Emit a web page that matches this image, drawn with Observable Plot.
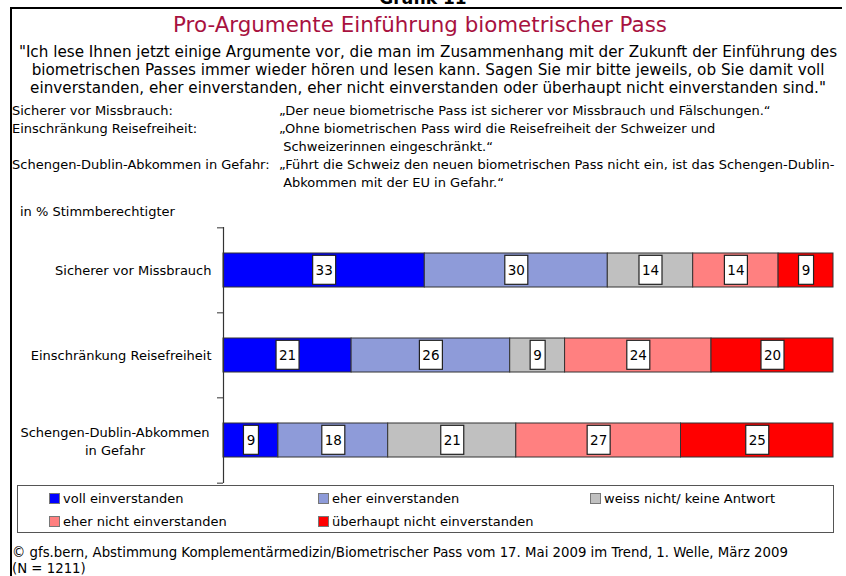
<!DOCTYPE html>
<html><head><meta charset="utf-8">
<script src="https://cdn.jsdelivr.net/npm/d3@7"></script>
<script src="https://cdn.jsdelivr.net/npm/@observablehq/plot@0.6"></script>
<style>
body{margin:0;background:#fff;}
#wrap{position:relative;width:846px;height:576px;overflow:hidden;background:#fff;color:#000;font-family:"DejaVu Sans",sans-serif;}
#frame{position:absolute;left:10px;top:7px;width:830px;height:580px;border-top:2px solid #000;border-left:2px solid #000;}
#grafik{position:absolute;left:0;width:846px;top:-12px;text-align:center;font:bold 17px "DejaVu Sans",sans-serif;}
#title{position:absolute;left:0;width:840px;top:11px;text-align:center;font:21.4px/28px "DejaVu Sans",sans-serif;color:#a8123f;white-space:nowrap;}
.q{position:absolute;left:13px;width:830px;text-align:center;font:15.2px/18px "DejaVu Sans",sans-serif;white-space:nowrap;}
.def{position:absolute;font:13px/18px "DejaVu Sans",sans-serif;white-space:pre;}
#unit{position:absolute;left:20px;top:203px;font:13px/18px "DejaVu Sans",sans-serif;}
#chart{position:absolute;left:0;top:215px;}
#legend{position:absolute;left:17px;top:485px;width:815px;height:46px;border:1px solid #555;}
.li{position:absolute;font:13px/18px "DejaVu Sans",sans-serif;white-space:nowrap;}
.sw{display:inline-block;width:9px;height:9px;border:1px solid #777;vertical-align:-1px;margin-right:3px;}
#footer{position:absolute;left:12px;top:545px;font:13.3px/16px "DejaVu Sans",sans-serif;white-space:nowrap;}
</style></head><body>
<div id="wrap">
  <div id="grafik">Grafik 11</div>
  <div id="frame"></div>
  <div id="title"></div>
  <div id="question"></div>
  <div id="defs"></div>
  <div id="unit"></div>
  <div id="chart"></div>
  <div id="legend"></div>
  <div id="footer"></div>
</div>
<script>
// ---- Data ----
const titleText = "Pro-Argumente Einführung biometrischer Pass";
const questionLines = [
  "\"Ich lese Ihnen jetzt einige Argumente vor, die man im Zusammenhang mit der Zukunft der Einführung des",
  "biometrischen Passes immer wieder hören und lesen kann. Sagen Sie mir bitte jeweils, ob Sie damit voll",
  "einverstanden, eher einverstanden, eher nicht einverstanden oder überhaupt nicht einverstanden sind.\""
];
const defTerms = ["Sicherer vor Missbrauch:", "Einschränkung Reisefreiheit:", "Schengen-Dublin-Abkommen in Gefahr:"];
const defTexts = [
  ["„Der neue biometrische Pass ist sicherer vor Missbrauch und Fälschungen.“"],
  ["„Ohne biometrischen Pass wird die Reisefreiheit der Schweizer und", " Schweizerinnen eingeschränkt.“"],
  ["„Führt die Schweiz den neuen biometrischen Pass nicht ein, ist das Schengen-Dublin-", " Abkommen mit der EU in Gefahr.“"]
];
const unitText = "in % Stimmberechtigter";
const categories = ["Sicherer vor Missbrauch", "Einschränkung Reisefreiheit", "Schengen-Dublin-Abkommen in Gefahr"];
const categoryLabels = ["Sicherer vor Missbrauch", "Einschränkung Reisefreiheit", "Schengen-Dublin-Abkommen\nin Gefahr"];
const responses = ["voll einverstanden", "eher einverstanden", "weiss nicht/ keine Antwort", "eher nicht einverstanden", "überhaupt nicht einverstanden"];
const colors = ["#0000ff", "#8e9bd9", "#c0c0c0", "#ff8080", "#ff0000"];
const valuesSicherer = [33, 30, 14, 14, 9];
const valuesReisefreiheit = [21, 26, 9, 24, 20];
const valuesSchengen = [9, 18, 21, 27, 25];
const footerLines = ["© gfs.bern, Abstimmung Komplementärmedizin/Biometrischer Pass vom 17. Mai 2009 im Trend, 1. Welle, März 2009", "(N = 1211)"];

// ---- Text blocks ----
document.getElementById("title").textContent = titleText;
const q = document.getElementById("question");
questionLines.forEach((s, i) => {
  const d = document.createElement("div");
  d.className = "q"; d.style.top = (43 + i * 18) + "px"; d.textContent = s; q.appendChild(d);
});
document.getElementById("unit").textContent = unitText;
document.getElementById("footer").innerHTML = footerLines.join("<br>");
const defs = document.getElementById("defs");
let line = 0;
defTerms.forEach((t, i) => {
  const a = document.createElement("div");
  a.className = "def"; a.style.left = "12px"; a.style.top = (102 + line * 18) + "px";
  a.textContent = t; defs.appendChild(a);
  defTexts[i].forEach((s, k) => {
    const b = document.createElement("div");
    b.className = "def"; b.style.left = "279px"; b.style.top = (102 + (line + k) * 18) + "px";
    b.textContent = s; defs.appendChild(b);
  });
  line += defTexts[i].length;
});

// ---- Chart ----
const data = [];
[valuesSicherer, valuesReisefreiheit, valuesSchengen].forEach((vals, i) =>
  vals.forEach((v, j) => data.push({cat: categories[i], resp: responses[j], value: v})));

const H = 272, mT = 12, mB = 4;
const step = (H - mT - mB) / categories.length;
const stack = {x: "value", y: "cat", z: "resp", order: responses};
const labelOf = d => categoryLabels[categories.indexOf(d)];

const chart = Plot.plot({
  width: 846, height: H,
  marginLeft: 223, marginRight: 13, marginTop: mT, marginBottom: mB,
  x: {domain: [0, 100], axis: null},
  y: {domain: categories, paddingInner: 0.596, paddingOuter: 0.298, axis: null},
  color: {domain: responses, range: colors},
  style: {fontFamily: "DejaVu Sans, sans-serif", fontSize: "13px", background: "transparent", color: "#000"},
  marks: [
    Plot.barX(data, Plot.stackX({...stack, fill: "resp", stroke: "#333", strokeWidth: 1})),
    Plot.ruleX([0], {stroke: "#333", strokeWidth: 1.2}),
    Plot.axisY({ticks: categories, tickSize: 6, tickFormat: () => "", label: null, dy: -step / 2, stroke: "#333"}),
    Plot.axisY({ticks: categories.slice(2), tickSize: 6, tickFormat: () => "", label: null, dy: step / 2, stroke: "#333"}),
    Plot.axisY({ticks: categories.slice(0, 2), tickSize: 0, tickPadding: 12, tickFormat: labelOf, label: null, fontSize: 13}),
    Plot.axisY({ticks: categories.slice(2), tickSize: 0, tickPadding: 12, tickFormat: labelOf, label: null, fontSize: 13, textAnchor: "middle", lineHeight: 1.385, dx: -96.5}),
    Plot.text(data, Plot.stackX({...stack, text: "value", fontSize: 13.5}))
  ]
});
document.getElementById("chart").appendChild(chart);

// white label boxes behind the value labels
const svg = document.querySelector("#chart svg");
svg.querySelectorAll('g[aria-label="text"] text').forEach(t => {
  const bb = t.getBBox();
  const r = document.createElementNS("http://www.w3.org/2000/svg", "rect");
  const w = Math.round(bb.width + 6), h = 29;
  r.setAttribute("x", bb.x + bb.width / 2 - w / 2);
  r.setAttribute("y", bb.y + bb.height / 2 - h / 2);
  r.setAttribute("width", w); r.setAttribute("height", h);
  r.setAttribute("fill", "#fff"); r.setAttribute("stroke", "#222"); r.setAttribute("stroke-width", "1.2");
  const tr = t.getAttribute("transform");
  if (tr) r.setAttribute("transform", tr);
  t.parentNode.insertBefore(r, t);
});

// ---- Legend ----
const legend = document.getElementById("legend");
const colX = [31, 300, 572], rowY = [4, 27];
responses.forEach((r, i) => {
  const d = document.createElement("div");
  d.className = "li";
  d.style.left = colX[i % 3] + "px"; d.style.top = rowY[Math.floor(i / 3)] + "px";
  d.innerHTML = `<span class="sw" style="background:${colors[i]}"></span>`;
  d.appendChild(document.createTextNode(r));
  legend.appendChild(d);
});
</script>
</body></html>
